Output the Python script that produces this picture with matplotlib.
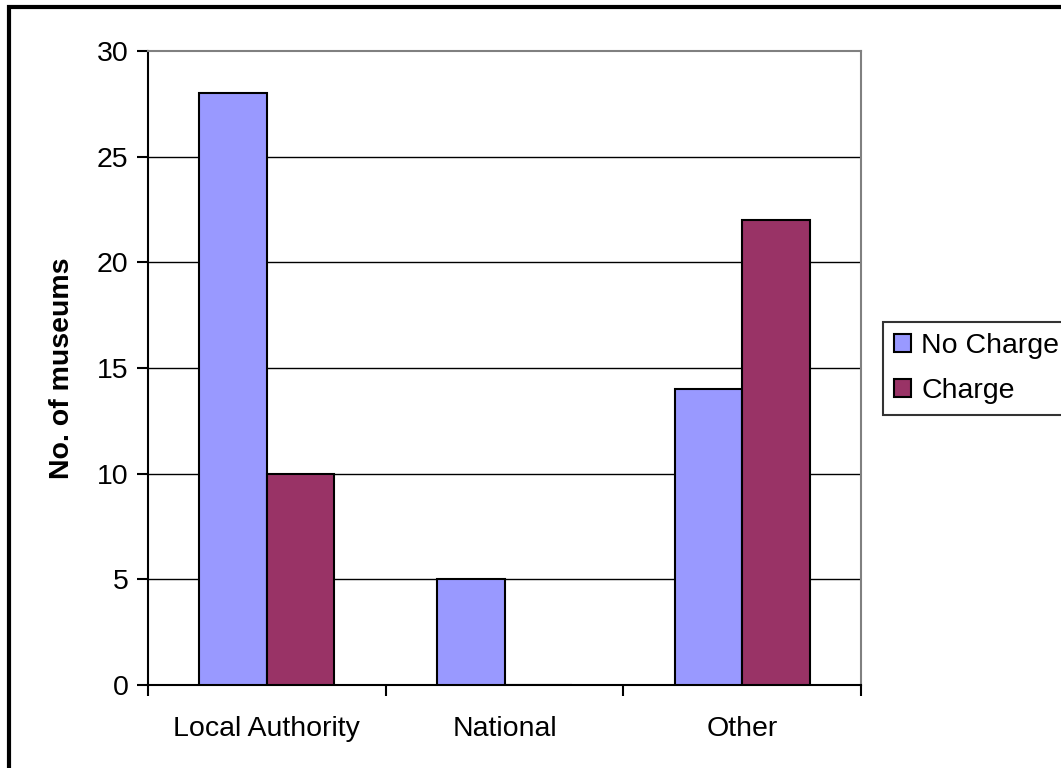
import matplotlib
matplotlib.use("Agg")
import matplotlib.pyplot as plt
import numpy as np
from matplotlib.patches import Rectangle

categories = ["Local Authority", "National", "Other"]
no_charge = [28, 5, 14]
charge = [10, 0, 22]
series_names = ["No Charge", "Charge"]
colors = ["#9999FF", "#993366"]
yticks = [0, 5, 10, 15, 20, 25, 30]

plt.rcParams["font.family"] = ["Liberation Sans", "DejaVu Sans"]
FS = 20.5

fig = plt.figure(figsize=(10.61, 7.68), dpi=100)
W, H = 1061, 768
ax = fig.add_axes([148 / W, 1 - 685 / H, (861 - 148) / W, (685 - 51) / H])

x = np.arange(len(categories))
bw = 0.284
ax.bar(x - bw / 2, no_charge, width=bw, color=colors[0], edgecolor="black",
       linewidth=1.5, label=series_names[0], zorder=3)
ax.bar(x + bw / 2, charge, width=bw, color=colors[1], edgecolor="black",
       linewidth=1.5, label=series_names[1], zorder=3)

ax.set_xlim(-0.5, len(categories) - 0.5)
ax.set_ylim(0, 30)
ax.set_yticks(yticks)
ax.set_yticklabels([str(t) for t in yticks], fontsize=FS)
for t in yticks[1:-1]:
    ax.axhline(t, color="black", linewidth=1.0, zorder=1)

# category labels centred, ticks on the group boundaries
ax.set_xticks(np.arange(len(categories) + 1) - 0.5)
ax.set_xticklabels([""] * (len(categories) + 1))
ax.set_xticks(x, minor=True)
ax.set_xticklabels(categories, minor=True, fontsize=FS)
ax.tick_params(axis="x", which="minor", length=0, pad=22)
ax.tick_params(axis="x", which="major", length=8, width=1.5, direction="out")
ax.tick_params(axis="y", length=8, width=1.5, direction="out", pad=6)

ax.spines["left"].set_linewidth(1.5)
ax.spines["bottom"].set_linewidth(1.5)
ax.spines["top"].set_color("#808080")
ax.spines["right"].set_color("#808080")
ax.spines["top"].set_linewidth(1.5)
ax.spines["right"].set_linewidth(1.5)

ax.set_ylabel("No. of museums", fontsize=FS, fontweight="bold", labelpad=16)

leg = ax.legend(loc="upper left", bbox_to_anchor=(883 / W, 1 - 322 / H),
                bbox_transform=fig.transFigure, fontsize=FS, frameon=True,
                fancybox=False, edgecolor="black", handlelength=0.6,
                handleheight=0.6, handletextpad=0.35, borderpad=0.4,
                labelspacing=0.65, borderaxespad=0)
leg.get_frame().set_linewidth(1.5)
for h in leg.legend_handles:
    h.set_edgecolor("black")
    h.set_linewidth(1.5)

# chart frame
fig.patches.append(Rectangle((9 / W, -0.1), 1.2, 1 - 7 / H + 0.1,
                             transform=fig.transFigure, fill=False,
                             edgecolor="black", linewidth=3))

fig.savefig("out.png", dpi=100)
